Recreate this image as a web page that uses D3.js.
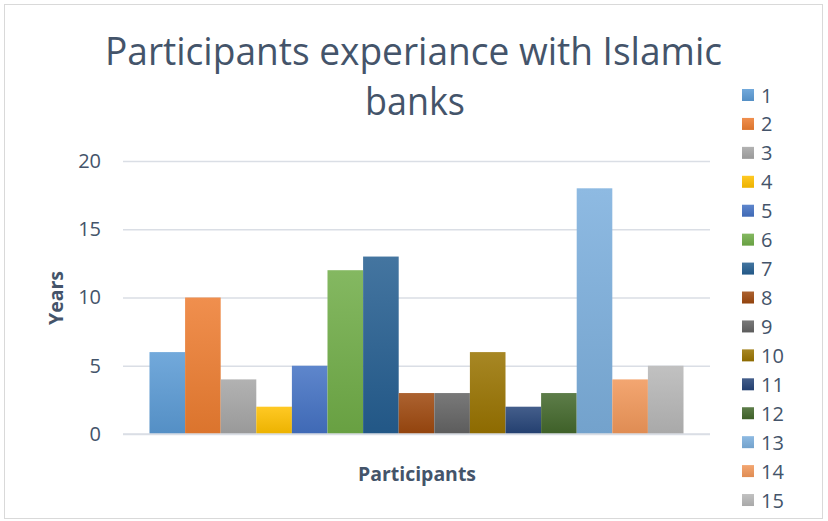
<!DOCTYPE html>
<html>
<head>
<meta charset="utf-8">
<script src="https://cdn.jsdelivr.net/npm/d3@7"></script>
<style>
  html, body { margin: 0; padding: 0; background: #fff; }
  svg { display: block; font-family: "Open Sans", "Noto Sans", sans-serif; }
</style>
</head>
<body>
<svg id="chart" width="828" height="521"></svg>
<script>
// Years of experience with Islamic banks, one bar per participant
const participants = ["1","2","3","4","5","6","7","8","9","10","11","12","13","14","15"];
const years = [6, 10, 4, 2, 5, 12, 13, 3, 3, 6, 2, 3, 18, 4, 5];
const seriesColors = ["#5B9BD5","#ED7D31","#A5A5A5","#FFC000","#4472C4","#70AD47","#255E91",
                      "#9E480E","#636363","#997300","#264478","#43682B","#7CAFDD","#F1975A","#B7B7B7"];
const category = ["Participants"];
const yTicks = [0, 5, 10, 15, 20];
const titleLines = ["Participants experiance with Islamic", "banks"];

const svg = d3.select("#chart");
const textColor = "#44546A";
const gridColor = "#DADEE5";

// outer chart border
svg.append("rect")
  .attr("x", 4.5).attr("y", 4.5).attr("width", 818).attr("height", 514)
  .attr("fill", "#fff").attr("stroke", "#D9D9D9").attr("stroke-width", 1);

const plot = { left: 123, right: 710, top: 161, bottom: 434 };

const y = d3.scaleLinear().domain([0, 20]).range([plot.bottom, plot.top]);
const x0 = d3.scaleBand().domain(category).range([plot.left, plot.right])
  .paddingInner(0).paddingOuter(0.0496);
const x1 = d3.scaleBand().domain(participants).range([0, x0.bandwidth()]).padding(0);

// gradients for the bar fills
const defs = svg.append("defs");
seriesColors.forEach((c, i) => {
  const g = defs.append("linearGradient").attr("id", "grad" + i)
    .attr("x1", 0).attr("y1", 0).attr("x2", 0).attr("y2", 1);
  g.append("stop").attr("offset", "0%").attr("stop-color", d3.interpolateRgb(c, "#ffffff")(0.14));
  g.append("stop").attr("offset", "100%").attr("stop-color", d3.rgb(c).darker(0.22).formatHex());
});

// gridlines and y labels
const yAxis = d3.axisLeft(y).tickValues(yTicks).tickSize(-(plot.right - plot.left)).tickPadding(22);
const gy = svg.append("g").attr("transform", `translate(${plot.left},0)`).call(yAxis);
gy.select(".domain").remove();
gy.selectAll(".tick line").attr("stroke", gridColor).attr("stroke-width", 1.5);
gy.selectAll(".tick text").attr("fill", textColor).attr("font-size", 20)
  .attr("font-family", "Open Sans, sans-serif");

// bars
const grp = svg.append("g").attr("transform", `translate(${x0(category[0])},0)`);
grp.selectAll("rect").data(years).join("rect")
  .attr("x", (d, i) => x1(participants[i]))
  .attr("width", x1.bandwidth())
  .attr("y", d => y(d))
  .attr("height", d => y(0) - y(d))
  .attr("fill", (d, i) => `url(#grad${i})`);

// baseline
svg.append("line").attr("x1", plot.left).attr("x2", plot.right)
  .attr("y1", y(0)).attr("y2", y(0)).attr("stroke", gridColor).attr("stroke-width", 1.5);

// title
const title = svg.append("g").attr("fill", textColor).attr("font-size", 38).attr("text-anchor", "middle");
title.append("text").attr("x", 413.5).attr("y", 65).text(titleLines[0])
  .attr("textLength", 617).attr("lengthAdjust", "spacingAndGlyphs");
title.append("text").attr("x", 415).attr("y", 115).text(titleLines[1])
  .attr("textLength", 100).attr("lengthAdjust", "spacingAndGlyphs");

// axis titles
svg.append("text").attr("x", 417).attr("y", 481).attr("text-anchor", "middle")
  .attr("font-size", 19).attr("font-weight", 700).attr("fill", textColor)
  .attr("textLength", 118).attr("lengthAdjust", "spacingAndGlyphs").text(category[0]);
svg.append("text").attr("transform", "translate(63,298) rotate(-90)").attr("text-anchor", "middle")
  .attr("font-size", 19).attr("font-weight", 700).attr("fill", textColor)
  .attr("textLength", 54).attr("lengthAdjust", "spacingAndGlyphs").text("Years");

// legend
const legend = svg.append("g");
const rowStep = 28.93;
participants.forEach((p, i) => {
  const cy = 95 + i * rowStep;
  legend.append("rect").attr("x", 742).attr("y", cy - 6).attr("width", 12).attr("height", 12)
    .attr("fill", `url(#grad${i})`);
  legend.append("text").attr("x", 761).attr("y", cy + 7.5).attr("font-size", 20)
    .attr("fill", textColor).text(p);
});
</script>
</body>
</html>
